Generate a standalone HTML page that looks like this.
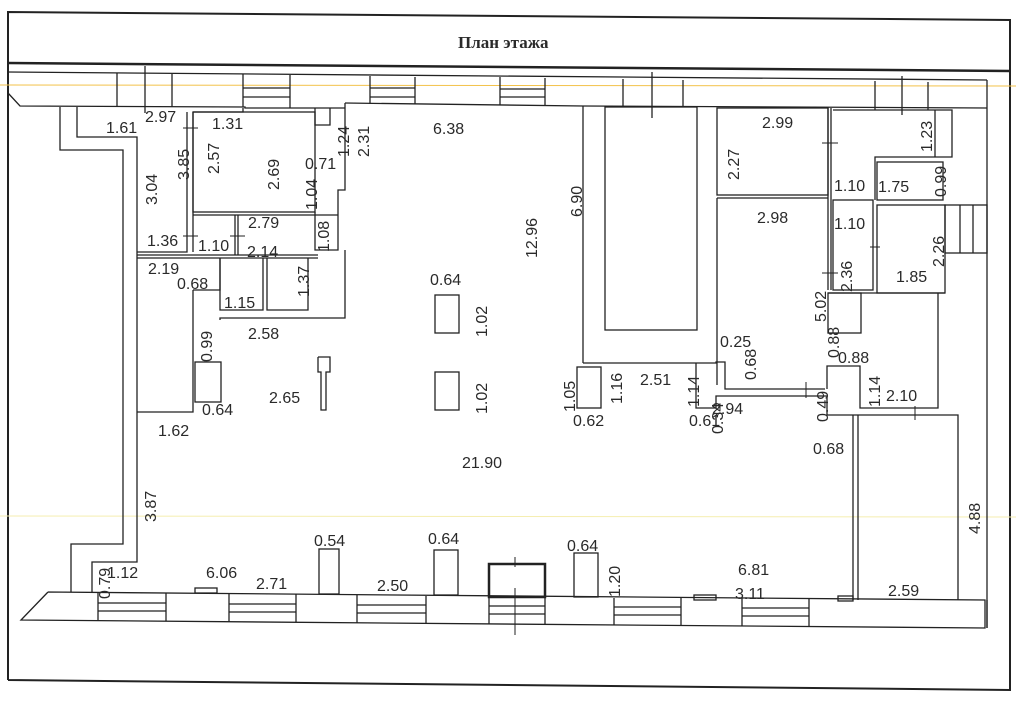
<!DOCTYPE html>
<html><head><meta charset="utf-8"><style>
body{margin:0;background:#fff;width:1016px;height:702px;overflow:hidden}
svg{display:block}
text{font-family:"Liberation Sans",sans-serif;font-size:16px;fill:#2a2a2a}
</style></head><body>
<svg width="1016" height="702" viewBox="0 0 1016 702" stroke="#222" fill="none" stroke-width="1.3">
<!-- frame -->
<polyline points="8,680 8,12 1010,20 1010,690 8,680" stroke-width="2"/>
<line x1="8" y1="63" x2="1010" y2="71" stroke-width="2.5"/>
<text x="458" y="48" style="font-family:'Liberation Serif',serif;font-weight:bold;font-size:17px;stroke:none">План этажа</text>
<!-- faint guide lines -->
<line x1="0" y1="85" x2="1016" y2="86" stroke="#f3c24a" stroke-width="1"/>
<line x1="0" y1="516" x2="1016" y2="517" stroke="#f5eeb0" stroke-width="1"/>
<!-- top strip -->
<line x1="8" y1="72" x2="987" y2="80" />
<polyline points="8,93 20,106 245,107 245,108 345,108"/>
<line x1="345" y1="103" x2="583" y2="106"/>
<line x1="583" y1="106" x2="987" y2="108"/>
<line x1="987" y1="80" x2="987" y2="628"/>
<g>
<line x1="117" y1="73" x2="117" y2="106"/><line x1="145" y1="66" x2="145" y2="113"/><line x1="172" y1="74" x2="172" y2="107"/>
<line x1="243" y1="74" x2="243" y2="107"/><line x1="290" y1="75" x2="290" y2="108"/>
<line x1="243" y1="88" x2="290" y2="88"/><line x1="243" y1="97" x2="290" y2="97"/>
<line x1="370" y1="76" x2="370" y2="104"/><line x1="415" y1="77" x2="415" y2="104"/>
<line x1="370" y1="88" x2="415" y2="88"/><line x1="370" y1="97" x2="415" y2="97"/>
<line x1="500" y1="77" x2="500" y2="105"/><line x1="545" y1="78" x2="545" y2="105"/>
<line x1="500" y1="89" x2="545" y2="89"/><line x1="500" y1="97" x2="545" y2="97"/>
<line x1="623" y1="79" x2="623" y2="107"/><line x1="652" y1="72" x2="652" y2="118"/><line x1="683" y1="80" x2="683" y2="107"/>
<line x1="875" y1="81" x2="875" y2="110"/><line x1="902" y1="76" x2="902" y2="115"/><line x1="928" y1="82" x2="928" y2="110"/>
</g>
<!-- left walls -->
<polyline points="60,107 60,150 123,150 123,544 71,544 71,592"/>
<polyline points="77,107 77,137 137,137 137,562 92,562 92,592"/>
<!-- left rooms -->
<polyline points="187,112 187,252 137,252"/>
<polyline points="193,112 193,252"/>
<polyline points="193,112 243,112 243,108"/>
<rect x="193" y="112" width="122" height="100"/>
<polyline points="315,108 315,125 330,125 330,108"/>
<polyline points="345,103 345,190 338,190 338,250 315,250 315,212"/>
<line x1="193" y1="215" x2="338" y2="215"/>
<line x1="235" y1="215" x2="235" y2="255"/><line x1="238" y1="215" x2="238" y2="255"/>
<line x1="137" y1="255" x2="318" y2="255"/><line x1="137" y1="258" x2="318" y2="258"/>
<polyline points="220,258 220,310 263,310 263,258"/>
<polyline points="267,258 267,310 308,310 308,258"/>
<polyline points="345,250 345,318 220,318 220,320"/>
<polyline points="193,290 220,290 220,258"/>
<polyline points="193,290 193,412 137,412"/>
<rect x="195" y="362" width="26" height="40"/>
<rect x="435" y="295" width="24" height="38"/>
<rect x="435" y="372" width="24" height="38"/>
<polyline points="318,357 330,357 330,372 326,372 326,410 321,410 321,372 318,372 318,357"/>
<!-- center column -->
<line x1="583" y1="106" x2="583" y2="363"/>
<rect x="605" y="107" width="92" height="223"/>
<polyline points="583,363 716,363 716,362 725,362 725,389 825,389"/>
<rect x="577" y="367" width="24" height="41"/>
<polyline points="696,363 696,408 716,408 716,396 825,396"/>
<!-- right block -->
<rect x="717" y="108" width="111" height="87"/>
<polyline points="717,198 717,385"/>
<line x1="717" y1="198" x2="828" y2="198"/>
<line x1="828" y1="108" x2="828" y2="290"/><line x1="831" y1="108" x2="831" y2="290"/>
<polyline points="833,110 952,110 952,157 875,157 875,200"/>
<line x1="935" y1="110" x2="935" y2="157"/>
<rect x="877" y="162" width="66" height="38"/>
<rect x="833" y="200" width="40" height="90"/>
<rect x="877" y="205" width="68" height="88"/>
<rect x="945" y="205" width="42" height="48"/>
<line x1="960" y1="205" x2="960" y2="253"/><line x1="973" y1="205" x2="973" y2="253"/>
<line x1="828" y1="293" x2="945" y2="293"/>
<rect x="828" y="293" width="33" height="40"/>
<polyline points="827,389 827,366 860,366 860,408 938,408 938,293"/>
<polyline points="825,396 827,396 827,415 958,415 958,600"/>
<line x1="853" y1="415" x2="853" y2="600"/><line x1="858" y1="415" x2="858" y2="600"/>
<!-- small cross ticks -->
<g stroke-width="1">
<line x1="183" y1="128" x2="198" y2="128"/>
<line x1="183" y1="236" x2="198" y2="236"/><line x1="230" y1="236" x2="245" y2="236"/>
<line x1="822" y1="143" x2="838" y2="143"/><line x1="822" y1="273" x2="838" y2="273"/>
<line x1="870" y1="247" x2="880" y2="247"/><line x1="806" y1="382" x2="806" y2="398"/>
<line x1="915" y1="406" x2="915" y2="420"/><line x1="515" y1="557" x2="515" y2="567"/>
<line x1="515" y1="588" x2="515" y2="635"/>
</g>
<!-- bottom strip -->
<polyline points="48,592 985,600 985,628 21,620 48,592"/>
<line x1="987" y1="628" x2="987" y2="600"/>
<g>
<line x1="98" y1="592" x2="98" y2="620"/><line x1="166" y1="593" x2="166" y2="621"/>
<line x1="98" y1="603" x2="166" y2="603"/><line x1="98" y1="611" x2="166" y2="611"/>
<line x1="229" y1="594" x2="229" y2="622"/><line x1="296" y1="594" x2="296" y2="622"/>
<line x1="229" y1="604" x2="296" y2="604"/><line x1="229" y1="612" x2="296" y2="612"/>
<line x1="357" y1="595" x2="357" y2="623"/><line x1="426" y1="596" x2="426" y2="623"/>
<line x1="357" y1="605" x2="426" y2="605"/><line x1="357" y1="613" x2="426" y2="613"/>
<line x1="489" y1="596" x2="489" y2="624"/><line x1="545" y1="597" x2="545" y2="624"/>
<line x1="489" y1="606" x2="545" y2="606"/><line x1="489" y1="614" x2="545" y2="614"/>
<line x1="614" y1="598" x2="614" y2="625"/><line x1="681" y1="598" x2="681" y2="625"/>
<line x1="614" y1="607" x2="681" y2="607"/><line x1="614" y1="615" x2="681" y2="615"/>
<line x1="742" y1="598" x2="742" y2="626"/><line x1="809" y1="599" x2="809" y2="626"/>
<line x1="742" y1="608" x2="809" y2="608"/><line x1="742" y1="616" x2="809" y2="616"/>
</g>
<rect x="195" y="588" width="22" height="5"/><rect x="694" y="595" width="22" height="5"/>
<rect x="838" y="596" width="15" height="5"/>
<rect x="319" y="549" width="20" height="45"/><rect x="434" y="550" width="24" height="45"/>
<rect x="574" y="553" width="24" height="44"/>
<rect x="489" y="564" width="56" height="33" stroke-width="2.5"/>
<!-- labels -->
<g stroke="none">
<text x="106" y="133">1.61</text><text x="145" y="122">2.97</text><text x="212" y="129">1.31</text>
<text x="433" y="134">6.38</text><text x="762" y="128">2.99</text><text x="757" y="223">2.98</text>
<text x="834" y="191">1.10</text><text x="878" y="192">1.75</text><text x="834" y="229">1.10</text>
<text x="896" y="282">1.85</text><text x="720" y="347">0.25</text><text x="838" y="363">0.88</text>
<text x="886" y="401">2.10</text><text x="640" y="385">2.51</text><text x="689" y="426">0.61</text>
<text x="712" y="414">2.94</text><text x="813" y="454">0.68</text><text x="573" y="426">0.62</text>
<text x="462" y="468">21.90</text><text x="888" y="596">2.59</text><text x="735" y="599">3.11</text>
<text x="738" y="575">6.81</text><text x="567" y="551">0.64</text><text x="428" y="544">0.64</text>
<text x="314" y="546">0.54</text><text x="377" y="591">2.50</text><text x="256" y="589">2.71</text>
<text x="206" y="578">6.06</text><text x="107" y="578">1.12</text><text x="158" y="436">1.62</text>
<text x="202" y="415">0.64</text><text x="269" y="403">2.65</text><text x="430" y="285">0.64</text>
<text x="248" y="339">2.58</text><text x="224" y="308">1.15</text><text x="177" y="289">0.68</text>
<text x="148" y="274">2.19</text><text x="147" y="246">1.36</text><text x="198" y="251">1.10</text>
<text x="247" y="257">2.14</text><text x="248" y="228">2.79</text><text x="305" y="169">0.71</text>
</g>
<g stroke="none">
<text transform="translate(932,152) rotate(-90)">1.23</text>
<text transform="translate(946,197) rotate(-90)">0.99</text>
<text transform="translate(944,267) rotate(-90)">2.26</text>
<text transform="translate(852,292) rotate(-90)">2.36</text>
<text transform="translate(826,322) rotate(-90)">5.02</text>
<text transform="translate(756,380) rotate(-90)">0.68</text>
<text transform="translate(839,358) rotate(-90)">0.88</text>
<text transform="translate(880,407) rotate(-90)">1.14</text>
<text transform="translate(699,407) rotate(-90)">1.14</text>
<text transform="translate(723,434) rotate(-90)">0.34</text>
<text transform="translate(828,422) rotate(-90)">0.49</text>
<text transform="translate(575,412) rotate(-90)">1.05</text>
<text transform="translate(622,404) rotate(-90)">1.16</text>
<text transform="translate(980,534) rotate(-90)">4.88</text>
<text transform="translate(620,597) rotate(-90)">1.20</text>
<text transform="translate(110,599) rotate(-90)">0.79</text>
<text transform="translate(156,522) rotate(-90)">3.87</text>
<text transform="translate(487,414) rotate(-90)">1.02</text>
<text transform="translate(487,337) rotate(-90)">1.02</text>
<text transform="translate(537,258) rotate(-90)">12.96</text>
<text transform="translate(582,217) rotate(-90)">6.90</text>
<text transform="translate(212,362) rotate(-90)">0.99</text>
<text transform="translate(309,297) rotate(-90)">1.37</text>
<text transform="translate(157,205) rotate(-90)">3.04</text>
<text transform="translate(189,180) rotate(-90)">3.85</text>
<text transform="translate(219,174) rotate(-90)">2.57</text>
<text transform="translate(279,190) rotate(-90)">2.69</text>
<text transform="translate(317,210) rotate(-90)">1.04</text>
<text transform="translate(329,252) rotate(-90)">1.08</text>
<text transform="translate(349,157) rotate(-90)">1.24</text>
<text transform="translate(369,157) rotate(-90)">2.31</text>
<text transform="translate(739,180) rotate(-90)">2.27</text>
</g>
</svg>
</body></html>
